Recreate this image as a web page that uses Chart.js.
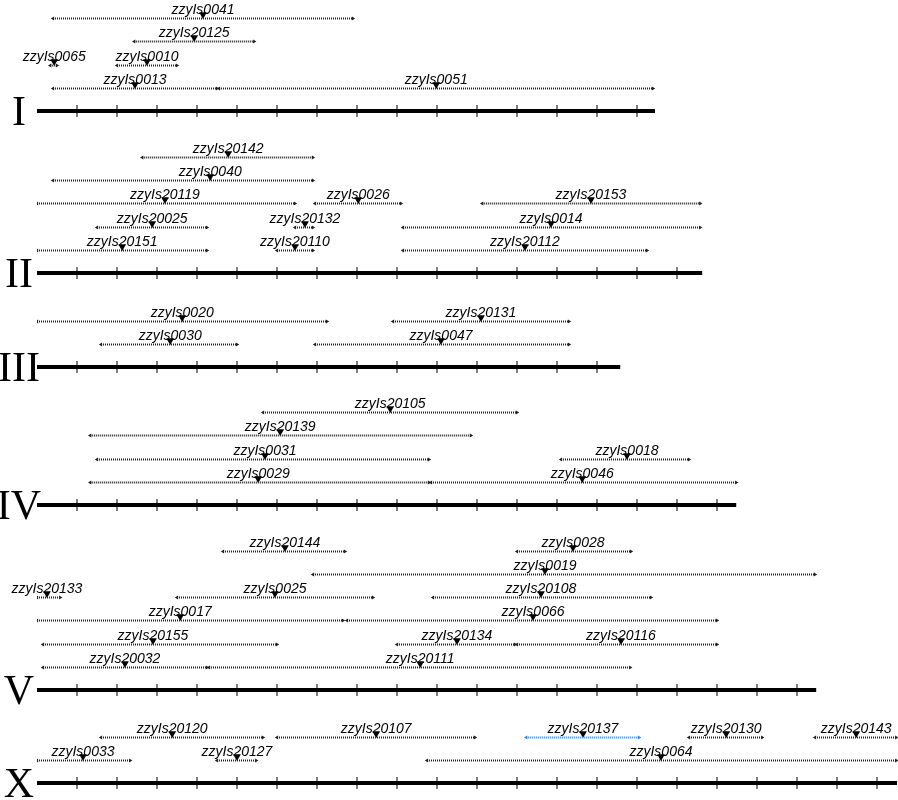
<!DOCTYPE html>
<html>
<head>
<meta charset="utf-8">
<script src="https://cdn.jsdelivr.net/npm/chart.js@4"></script>
<style>
  body { margin:0; background:#fff; }
</style>
</head>
<body>
<canvas id="map" width="898" height="800"></canvas>
<script>
// chromosomes (length in Mb)
const chromNames = ['I','II','III','IV','V','X'];
const chromLengths = [15.45, 16.63, 14.58, 17.48, 19.48, 21.5];

// insertions: name, chromosome, row above the chromosome, left, right, position (Mb)
const insNames = [
  'zzyIs0041','zzyIs20125','zzyIs0065','zzyIs0010','zzyIs0013','zzyIs0051',
  'zzyIs20142','zzyIs0040','zzyIs20119','zzyIs0026','zzyIs20153','zzyIs20025','zzyIs20132','zzyIs0014','zzyIs20151','zzyIs20110','zzyIs20112',
  'zzyIs0020','zzyIs20131','zzyIs0030','zzyIs0047',
  'zzyIs20105','zzyIs20139','zzyIs0031','zzyIs0018','zzyIs0029','zzyIs0046',
  'zzyIs20144','zzyIs0028','zzyIs0019','zzyIs20133','zzyIs0025','zzyIs20108','zzyIs0017','zzyIs0066','zzyIs20155','zzyIs20134','zzyIs20116','zzyIs20032','zzyIs20111',
  'zzyIs20120','zzyIs20107','zzyIs20137','zzyIs20130','zzyIs20143','zzyIs0033','zzyIs20127','zzyIs0064'
];
const insChrom = [
  0,0,0,0,0,0,
  1,1,1,1,1,1,1,1,1,1,1,
  2,2,2,2,
  3,3,3,3,3,3,
  4,4,4,4,4,4,4,4,4,4,4,4,4,
  5,5,5,5,5,5,5,5
];
const insRow = [
  4,3,2,2,1,1,
  5,4,3,3,3,2,2,2,1,1,1,
  2,2,1,1,
  4,3,2,2,1,1,
  6,6,5,4,4,4,3,3,2,2,2,1,1,
  2,2,2,2,2,1,1,1
];
const insLeft = [
  0.4,2.43,0.33,2.0,0.4,4.55,
  2.63,0.4,0,6.95,11.13,1.5,6.45,9.15,0,6.0,9.15,
  0,8.9,1.6,6.95,
  5.65,1.33,1.5,13.1,1.33,9.85,
  4.65,12.0,6.9,0,3.5,9.9,0,7.75,0.15,9.0,12.0,0.15,4.3,
  1.6,6.0,12.23,16.3,19.45,0,4.5,9.75
];
const insRight = [
  7.9,5.43,0.5,3.5,4.5,15.4,
  6.9,6.9,6.45,9.1,16.58,4.25,6.9,16.58,4.25,6.9,15.25,
  7.25,13.3,5.0,13.3,
  12.0,10.85,9.8,16.3,9.8,17.48,
  7.7,14.85,19.45,0.58,8.4,15.35,7.65,17.0,6.0,11.95,17.0,4.25,14.83,
  5.65,10.95,15.05,18.13,21.48,2.33,5.48,21.48
];
const insPos = [
  4.15,3.93,0.43,2.75,2.45,9.98,
  4.78,4.33,3.2,8.03,13.85,2.88,6.7,12.85,2.13,6.45,12.2,
  3.63,11.1,3.33,10.1,
  8.83,6.08,5.7,14.75,5.53,13.63,
  6.2,13.4,12.7,0.25,5.95,12.6,3.58,12.4,2.9,10.5,14.6,2.2,9.58,
  3.38,8.48,13.65,17.23,20.48,1.15,5.0,15.6
];
const highlighted = ['zzyIs20137'];

// layout (canvas px): baseline of each chromosome, spacing of rows
const baseY = [111, 273, 367, 505, 690, 783];
const rowGap = 23.2;

const rowY = i => Math.round(baseY[insChrom[i]] - insRow[i] * rowGap) + 0.5;

const datasets = [];

chromLengths.forEach((len, c) => {
  datasets.push({
    type:'line', data:[{x:0,y:baseY[c]},{x:len,y:baseY[c]}],
    borderColor:'#000', borderWidth:4, pointRadius:0
  });
  const ticks = [];
  for (let t = 1; t < len; t++) ticks.push({x:t, y:baseY[c]});
  datasets.push({
    type:'scatter', data:ticks, pointStyle:'line', rotation:90,
    pointRadius:6, borderColor:'#000', borderWidth:1
  });
});

insNames.forEach((n, i) => {
  const col = highlighted.includes(n) ? '#2f86e0' : '#222';
  const y = rowY(i);
  datasets.push({
    type:'line', data:[{x:insLeft[i],y},{x:insRight[i],y}],
    borderColor:col, backgroundColor:col, borderWidth:2, borderDash:[1,1],
    pointStyle:'triangle', rotation:[-90,90], pointRadius:2.2, pointBorderWidth:0,
    borderCapStyle:'butt'
  });
});

datasets.push({
  type:'scatter',
  data: insNames.map((n, i) => ({x:insPos[i], y:rowY(i)-4})),
  pointStyle:'triangle', rotation:180, pointRadius:4.5,
  backgroundColor:'#000', borderColor:'#000', borderWidth:0
});

const labelPlugin = {
  id:'labels',
  afterDatasetsDraw(chart) {
    const {ctx, scales:{x, y}} = chart;
    ctx.save();
    ctx.fillStyle = '#000';
    ctx.textAlign = 'center';
    ctx.textBaseline = 'alphabetic';
    ctx.font = 'italic 14px "Liberation Sans", Arial, sans-serif';
    insNames.forEach((n, i) => {
      ctx.fillText(n, x.getPixelForValue(insPos[i]), y.getPixelForValue(rowY(i)) - 5);
    });
    ctx.font = '42px "Liberation Serif", "DejaVu Serif", serif';
    ctx.textBaseline = 'middle';
    chromNames.forEach((n, c) => {
      ctx.fillText(n, 19, y.getPixelForValue(baseY[c]) + 3);
    });
    ctx.restore();
  }
};

new Chart(document.getElementById('map'), {
  data:{ datasets },
  plugins:[labelPlugin],
  options:{
    responsive:false, animation:false,
    layout:{ autoPadding:false, padding:{ left:37, right:0, top:0, bottom:0 } },
    plugins:{ legend:{display:false}, tooltip:{enabled:false} },
    scales:{
      x:{ type:'linear', min:0, max:21.525, display:false },
      y:{ type:'linear', min:0, max:800, reverse:true, display:false }
    }
  }
});
</script>
</body>
</html>
